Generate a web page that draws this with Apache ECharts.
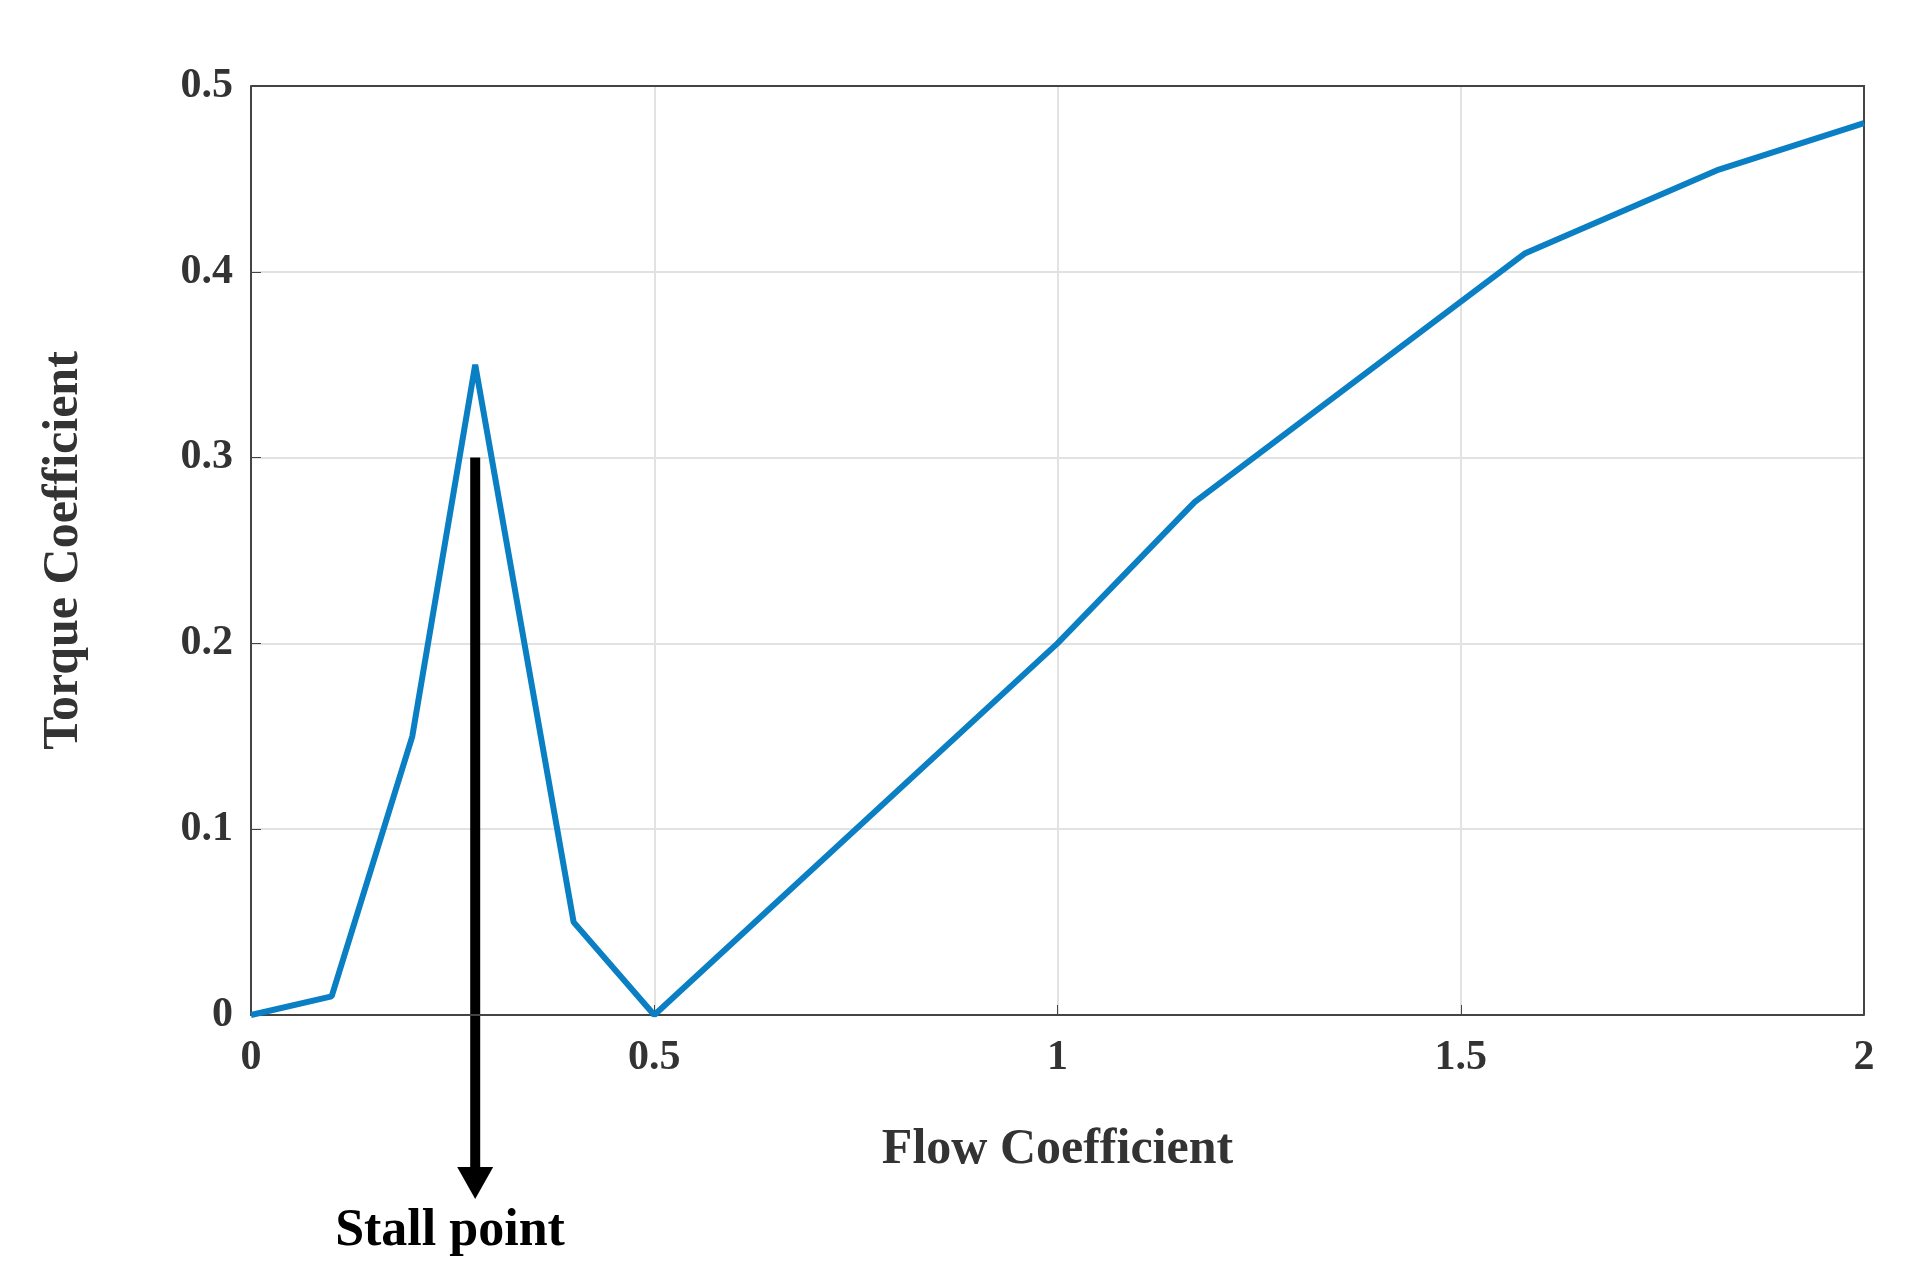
<!DOCTYPE html>
<html>
<head>
<meta charset="utf-8">
<script src="https://cdn.jsdelivr.net/npm/echarts@6/dist/echarts.min.js"></script>
<style>html,body{margin:0;padding:0;background:#fff}#main{width:1913px;height:1286px}</style>
</head>
<body>
<div id="main"></div>
<script>
const flow = [0, 0.1, 0.2, 0.278, 0.4, 0.5, 1, 1.17, 1.58, 1.82, 2]
const torque = [0, 0.01, 0.15, 0.35, 0.05, 0, 0.2, 0.276, 0.41, 0.455, 0.48]
const stallFlow = 0.278
const stallTop = 0.3

const font = 'Liberation Serif'
const chart = echarts.init(document.getElementById('main'))

chart.setOption({
  animation: false,
  backgroundColor: '#fff',
  grid: { left: 251, right: 49, top: 86, bottom: 271 },
  xAxis: {
    type: 'value', min: 0, max: 2, interval: 0.5,
    name: 'Flow Coefficient', nameLocation: 'middle', nameGap: 110,
    nameTextStyle: { fontFamily: font, fontWeight: 'bold', fontSize: 50, color: '#333' },
    axisLine: { onZero: false, lineStyle: { color: '#444', width: 2 } },
    axisTick: { inside: true, length: 10, lineStyle: { color: '#444' } },
    axisLabel: { fontFamily: font, fontWeight: 'bold', fontSize: 42, color: '#333', margin: 22 },
    splitLine: { lineStyle: { color: '#e2e2e2', width: 2 } },
  },
  yAxis: {
    type: 'value', min: 0, max: 0.5, interval: 0.1,
    name: 'Torque Coefficient', nameLocation: 'middle', nameGap: 162,
    nameTextStyle: { fontFamily: font, fontWeight: 'bold', fontSize: 50, color: '#333' },
    axisLine: { lineStyle: { color: '#444', width: 2 } },
    axisTick: { inside: true, length: 10, lineStyle: { color: '#444' } },
    axisLabel: { fontFamily: font, fontWeight: 'bold', fontSize: 42, color: '#333', margin: 18 },
    splitLine: { lineStyle: { color: '#e2e2e2', width: 2 } },
  },
  series: [
    {
      type: 'line',
      data: flow.map((x, i) => [x, torque[i]]),
      symbol: 'none',
      lineStyle: { color: '#0a7fc4', width: 6 },
    },
  ],
})

// frame top and right, arrow + label
const tl = chart.convertToPixel({ gridIndex: 0 }, [0, 0.5])
const br = chart.convertToPixel({ gridIndex: 0 }, [2, 0])
const stallPx = chart.convertToPixel({ gridIndex: 0 }, [stallFlow, stallTop])
const tipY = 1199
chart.setOption({
  graphic: [
    { type: 'polyline', shape: { points: [[tl[0], tl[1]], [br[0], tl[1]], [br[0], br[1]]] },
      style: { stroke: '#444', lineWidth: 2, fill: null } },
    { type: 'rect', shape: { x: stallPx[0] - 5, y: stallPx[1], width: 10, height: tipY - 30 - stallPx[1] },
      style: { fill: '#000' } },
    { type: 'polygon', shape: { points: [[stallPx[0] - 18, tipY - 32], [stallPx[0] + 18, tipY - 32], [stallPx[0], tipY]] },
      style: { fill: '#000' } },
    { type: 'text', x: 450, y: 1232,
      style: { text: 'Stall point', fontFamily: font, fontWeight: 'bold', fontSize: 52, fill: '#000',
        align: 'center', verticalAlign: 'middle' } },
  ],
})
</script>
</body>
</html>
